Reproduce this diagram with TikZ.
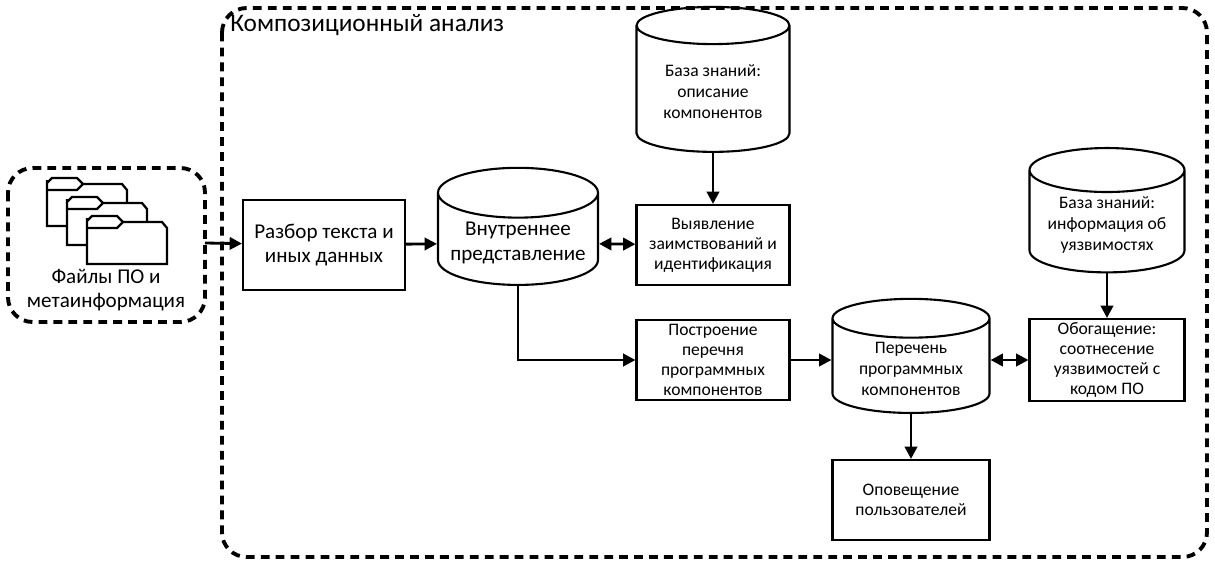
\documentclass[tikz,border=0pt]{standalone}
\usepackage{fontspec}
\setmainfont{Carlito}
\usetikzlibrary{shapes.geometric,arrows.meta}
\tikzset{
	block/.style={draw,line width=1.2pt,align=center,font=\normalsize\linespread{0.95}\selectfont,inner sep=2pt},
	store/.style={draw,line width=1.2pt,cylinder,shape border rotate=90,aspect=0.35,align=center,font=\normalsize,inner sep=2pt},
	link/.style={line width=1.6pt,-{Triangle[length=7pt,width=7pt]}},
	dlink/.style={line width=1.6pt,{Triangle[length=7pt,width=7pt]}-{Triangle[length=7pt,width=7pt]}},
	frame/.style={line width=2.2pt,dash pattern=on 5pt off 3.5pt,rounded corners=14pt},
	folder/.style={line width=1.3pt,fill=white}
}
\newcommand\folder[2]{
	\draw[folder] (#1,#2) -- (#1,#2+46) -- (#1+80,#2+46) -- (#1+80,#2+10) -- (#1+75,#2+4) -- (#1+36,#2+4) -- (#1+30,#2-2) -- (#1+5,#2-2) -- (#1,#2+3) -- cycle;
	\draw[folder] (#1,#2+10) -- (#1+30,#2+10) -- (#1+36,#2+4);
}
\begin{document}
\begin{tikzpicture}[x=0.02cm,y=-0.02cm]
	\useasboundingbox (0,0) rectangle (1215,565);
	% frames
	\draw[frame] (8,168) rectangle (205,322);
	\draw[frame] (222,8) rectangle (1207,557);
	\node[anchor=north west,font=\Large,inner sep=0pt] (title) at (230,14) {Композиционный анализ};

	% input files
	\folder{47}{180}
	\folder{67}{199}
	\folder{87}{218}
	\node[align=center,font=\large] (files) at (106,290) {Файлы ПО и\\метаинформация};
	\coordinate (filesout) at (205,243);

	% blocks
	\node[block,font=\large,minimum width=3.24cm,minimum height=1.8cm] (parse) at (324,245) {Разбор текста и\\иных данных};
	\node[store,font=\large,minimum width=3.2cm,minimum height=2.2cm] (inner) at (518,243) {Внутреннее\\представление};
	\node[block,minimum width=3.06cm,minimum height=1.6cm] (ident) at (713,245) {Выявление\\заимствований и\\идентификация};
	\node[store,minimum width=3.06cm,minimum height=2.9cm] (kb1) at (713,92) {База знаний:\\описание\\компонентов};
	\node[block,minimum width=3.06cm,minimum height=1.6cm] (build) at (713,360) {Построение\\перечня\\программных\\компонентов};
	\node[store,minimum width=3.14cm,minimum height=2cm] (list) at (911,369) {Перечень\\программных\\компонентов};
	\node[block,minimum width=3.14cm,minimum height=1.6cm] (notify) at (911,500) {Оповещение\\пользователей};
	\node[block,minimum width=3.1cm,minimum height=1.6cm] (enrich) at (1107,360) {Обогащение:\\соотнесение\\уязвимостей с\\кодом ПО};
	\node[store,minimum width=3.1cm,minimum height=2.4cm] (kb2) at (1107,225) {База знаний:\\информация об\\уязвимостях};

	% connectors
	\draw[link] (filesout) -- (parse);
	\draw[link] (parse) -- (inner);
	\draw[dlink] (inner) -- (ident);
	\draw[link] (kb1) -- (ident);
	\draw[link] (inner.south) |- (build);
	\draw[link] (build) -- (build -| list.west);
	\draw[dlink] (list.east |- enrich) -- (enrich);
	\draw[link] (kb2) -- (enrich);
	\draw[link] (list) -- (notify);
\end{tikzpicture}
\end{document}
